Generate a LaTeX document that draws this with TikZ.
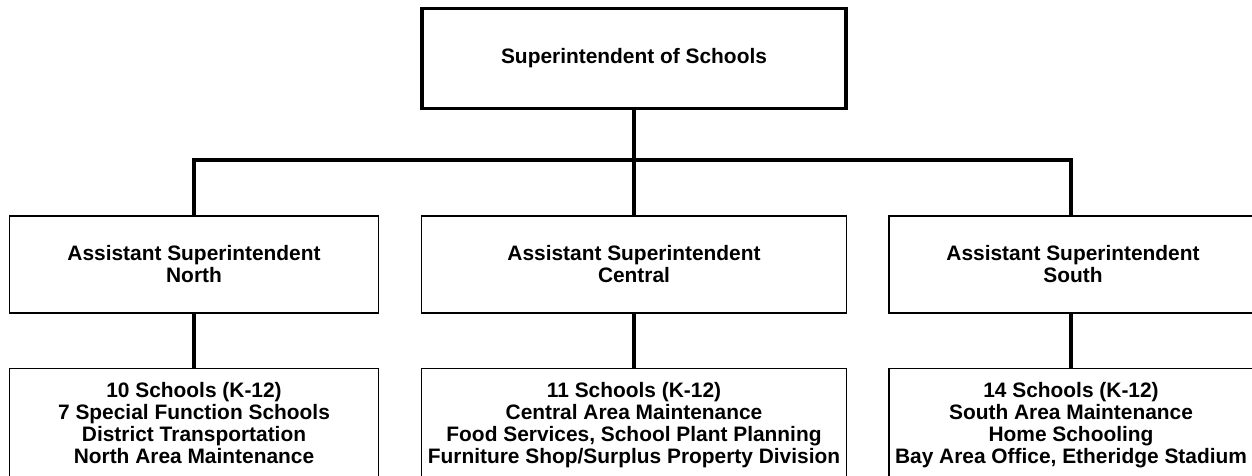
\documentclass[tikz,border=0pt]{standalone}
\usepackage{fontspec}
\setmainfont{Liberation Sans}
\begin{document}
\begin{tikzpicture}[x=1pt,y=-1pt,
  every node/.style={font=\fontsize{20.9}{22}\selectfont\bfseries, align=center},
  topbox/.style={draw, line width=3.5pt, minimum width=424pt, minimum height=100pt, inner sep=0pt},
  midbox/.style={draw, line width=1.3pt, minimum height=97pt, inner sep=0pt},
  lowbox/.style={draw, line width=1.3pt, minimum height=140pt, anchor=north, inner sep=0pt},
  lowtext/.style={anchor=north, inner sep=0pt},
  conn/.style={line width=4pt}]
\useasboundingbox (0,0) rectangle (1252,476);
% top level
\node[topbox] (top) at (634,58.5) {Superintendent of Schools};
% assistant superintendents
\node[midbox, minimum width=369pt] (mL) at (194,264.5) {Assistant Superintendent\\North};
\node[midbox, minimum width=425pt] (mC) at (634,264.5) {Assistant Superintendent\\Central};
\node[midbox, minimum width=368pt] (mR) at (1073,264.5) {Assistant Superintendent\\South};
% area responsibilities (run off the bottom edge)
\node[lowbox, minimum width=369pt] (bL) at (194,368) {};
\node[lowbox, minimum width=425pt] (bC) at (634,368) {};
\node[lowbox, minimum width=368pt] (bR) at (1073,368) {};
\node[lowtext] (tL) at ([yshift=-14pt]bL.north) {10 Schools (K-12)\\7 Special Function Schools\\District Transportation\\North Area Maintenance};
\node[lowtext] (tC) at ([yshift=-14pt]bC.north) {11 Schools (K-12)\\Central Area Maintenance\\Food Services, School Plant Planning\\Furniture Shop/Surplus Property Division};
\node[lowtext] (tR) at ([yshift=-14pt,xshift=-2pt]bR.north) {14 Schools (K-12)\\South Area Maintenance\\Home Schooling\\Bay Area Office, Etheridge Stadium};
% connectors
\coordinate (jR) at ([xshift=-2pt]mR.north);
\coordinate (kR) at ([xshift=-2pt]mR.south);
\draw[conn] (top.south) -- (mC.north);
\draw[conn] (mL.north) -- ++(0,-55) -| (jR);
\draw[conn] (mL.south) -- (bL.north);
\draw[conn] (mC.south) -- (bC.north);
\draw[conn] (kR) -- (kR |- bR.north);
\end{tikzpicture}
\end{document}
